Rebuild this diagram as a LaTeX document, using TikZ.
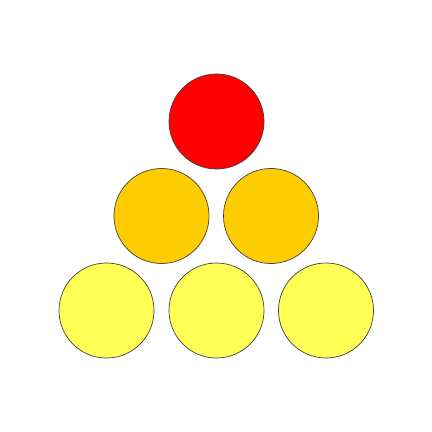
\documentclass[tikz,border=0pt]{standalone}
\usepackage{tikz}
\usepackage{xcolor}
\usetikzlibrary{positioning}
\definecolor{topred}{HTML}{FF0000}
\definecolor{midorange}{HTML}{FFCC00}
\definecolor{lowyellow}{HTML}{FFFF55}
\definecolor{rimgray}{HTML}{404040}

\begin{document}
\begin{tikzpicture}[x=0.025cm,y=-0.025cm]
      \tikzstyle{ball}=[circle,draw=rimgray,line width=0.5pt,minimum size=2.375cm,inner sep=0pt];
      \useasboundingbox (0,0) rectangle (432,432);
      \node[ball,fill=topred]    (top)   at (216.5,121.5) {};
      \node[ball,fill=midorange] (midl)  at (161.5,216) {};
      \node[ball,fill=midorange] (midr)  at (271,216) {};
      \node[ball,fill=lowyellow] (lowl)  at (106.5,310.5) {};
      \node[ball,fill=lowyellow] (lowc)  at (216.5,310.5) {};
      \node[ball,fill=lowyellow] (lowr)  at (326,310.5) {};
    \end{tikzpicture}
\end{document}
